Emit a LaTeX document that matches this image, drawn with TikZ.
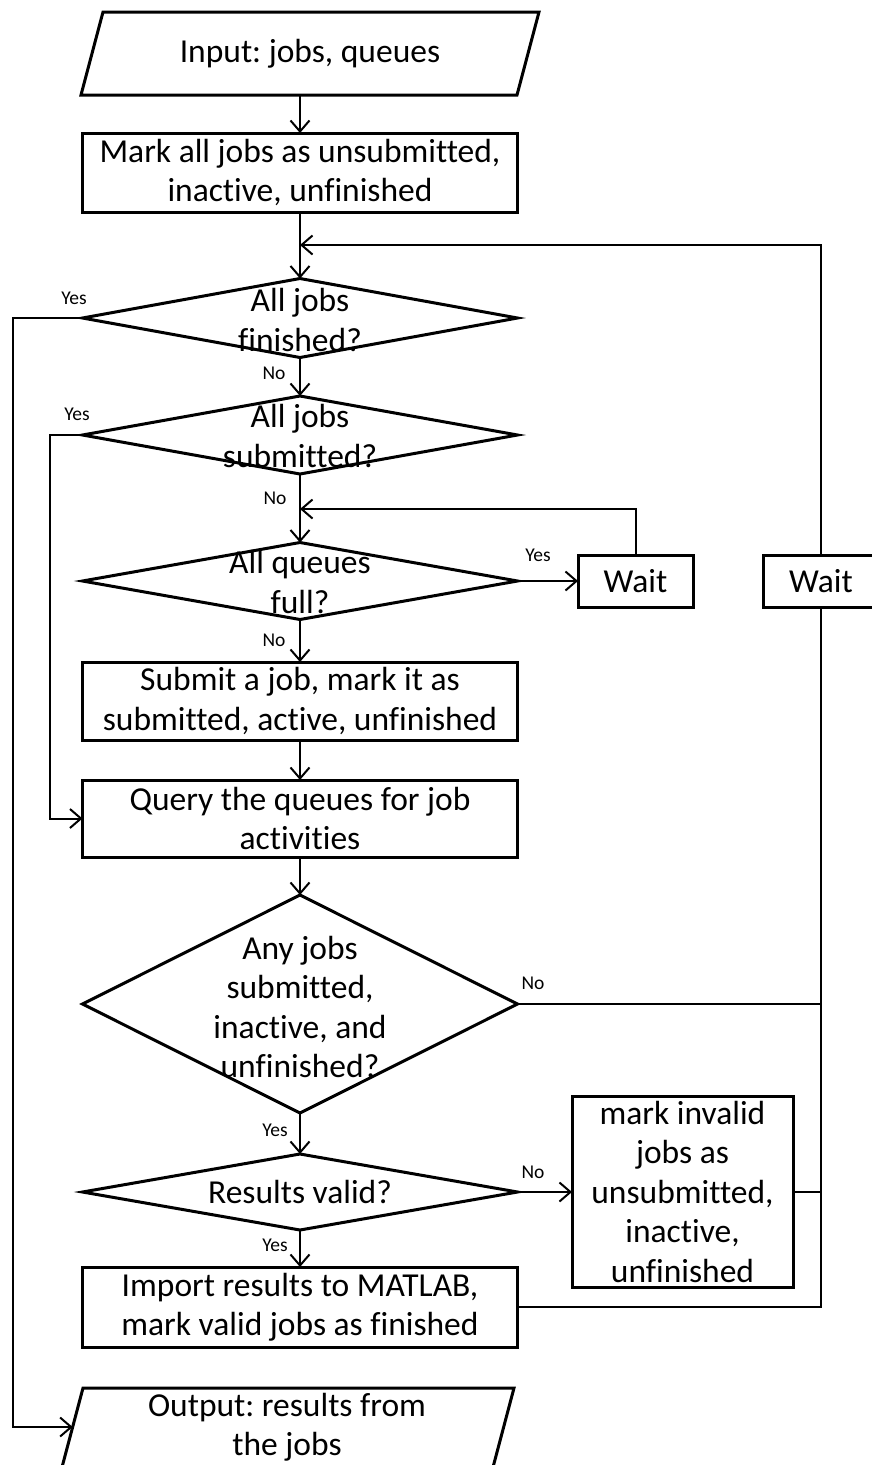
\documentclass[tikz,border=0pt]{standalone}
\usepackage{fontspec}
\setmainfont{Carlito}[Ligatures={NoCommon}]
\usetikzlibrary{shapes.geometric,arrows.meta,calc}
\frenchspacing
\begin{document}
\begin{tikzpicture}[x=1pt,y=-1pt,
  every node/.style={outer sep=0pt},
  mainfont/.style={font=\frenchspacing\fontsize{33.5}{39.5}\selectfont},
  box/.style={draw, line width=3pt, inner sep=0pt, minimum width=435pt, align=center, mainfont},
  dia/.style={diamond, draw, line width=3pt, inner sep=0pt, minimum width=435pt},
  txt/.style={inner sep=0pt, align=center, mainfont},
  lbl/.style={inner sep=0pt, font=\fontsize{19.5}{22}\selectfont},
  conn/.style={line width=2pt},
  arr/.style={conn, -{Straight Barb[length=11pt,width=19pt,line width=2pt]}},
  shp/.style={line width=3pt, line join=miter}
]
\useasboundingbox (0,0) rectangle (871,1465);

% input parallelogram
\coordinate (itl) at (103,12);
\coordinate (itr) at (539,12);
\coordinate (ibr) at (517,95);
\coordinate (ibl) at (81,95);
\draw[shp] (itl) -- (itr) -- (ibr) -- (ibl) -- cycle;
\node[txt] (intext) at (310,54) {Input: jobs, queues};
\coordinate (inb) at (300,95);

% process box 1
\node[box, minimum height=79pt] (b1) at (300,172.5) {Mark all jobs as unsubmitted,\\inactive, unfinished};

% decision 1
\node[dia, minimum height=79pt] (d1) at (300,318) {};
\node[txt] (d1t) at (300,320) {All jobs\\finished?};

% decision 2
\node[dia, minimum height=78pt] (d2) at (300,435) {};
\node[txt] (d2t) at (300,436) {All jobs\\submitted?};

% decision 3
\node[dia, minimum height=77pt] (d3) at (300,581) {};
\node[txt] (d3t) at (300,582) {All queues\\full?};

% wait boxes
\node[box, minimum width=115pt, minimum height=52pt] (w1) at (635.5,581) {Wait};
\node[box, minimum width=116pt, minimum height=52pt] (w2) at (821,581) {Wait};

% submit box
\node[box, minimum height=78pt] (sub) at (300,701) {Submit a job, mark it as\\submitted, active, unfinished};

% query box
\node[box, minimum height=77pt] (q) at (300,818.5) {Query the queues for job\\activities};

% decision 4
\node[dia, minimum height=218pt] (d4) at (300,1004) {};
\node[txt] (d4t) at (300,1007) {Any jobs\\submitted,\\inactive, and\\unfinished?};

% decision 5
\node[dia, minimum height=76pt] (d5) at (300,1192) {};
\node[txt] (d5t) at (300,1192) {Results valid?};

% mark invalid box
\node[box, minimum width=221pt, minimum height=191pt] (mi) at (682.5,1191.5) {mark invalid\\jobs as\\unsubmitted,\\inactive,\\unfinished};

% import box
\node[box, minimum height=80pt] (imp) at (300,1307) {Import results to MATLAB,\\mark valid jobs as finished};

% output parallelogram
\coordinate (otl) at (83,1388);
\coordinate (otr) at (514,1388);
\coordinate (obr) at (492,1471);
\coordinate (obl) at (61,1471);
\draw[shp] (otl) -- (otr) -- (obr) -- (obl) -- cycle;
\node[txt] (outtext) at (287,1427) {Output: results from\\the jobs};
\coordinate (outin) at ($(otl)!0.47!(obl)$);

% helper coordinates
\coordinate (loop1) at (300,245);
\coordinate (loop2) at (300,509);
\coordinate (L1) at (13,318);
\coordinate (L2) at (50,435);

% connectors
\draw[arr] (inb) -- (b1.north);
\draw[arr] (b1.south) -- (d1.north);
\draw[arr] (d1.south) -- (d2.north);
\draw[arr] (d2.south) -- (d3.north);
\draw[arr] (d3.south) -- (sub.north);
\draw[arr] (sub.south) -- (q.north);
\draw[arr] (q.south) -- (d4.north);
\draw[arr] (d4.south) -- (d5.north);
\draw[arr] (d5.south) -- (imp.north);
\draw[arr] (d3.east) -- (w1.west);
\draw[arr] (d5.east) -- (d5.east -| mi.west);
\draw[arr] (w1.north) |- (loop2);
\draw[arr] (d1.west) -- (L1) |- (outin);
\draw[arr] (d2.west) -- (L2) |- (q.west);
\draw[conn] (imp.east) -| (w2.south);
\draw[conn] (d4.east) -- (d4.east -| w2.south);
\draw[conn] (mi.east) -- (mi.east -| w2.south);
\draw[arr] (w2.north) |- (loop1);

% labels
\node[lbl] (y1) at (74,298) {Yes};
\node[lbl] (n1) at (274,373) {No};
\node[lbl] (y2) at (77,414) {Yes};
\node[lbl] (n2) at (275,498) {No};
\node[lbl] (y3) at (538,555) {Yes};
\node[lbl] (n3) at (274,640) {No};
\node[lbl] (n4) at (533,983) {No};
\node[lbl] (y4) at (275,1130) {Yes};
\node[lbl] (n5) at (533,1172) {No};
\node[lbl] (y5) at (275,1245) {Yes};
\end{tikzpicture}
\end{document}
